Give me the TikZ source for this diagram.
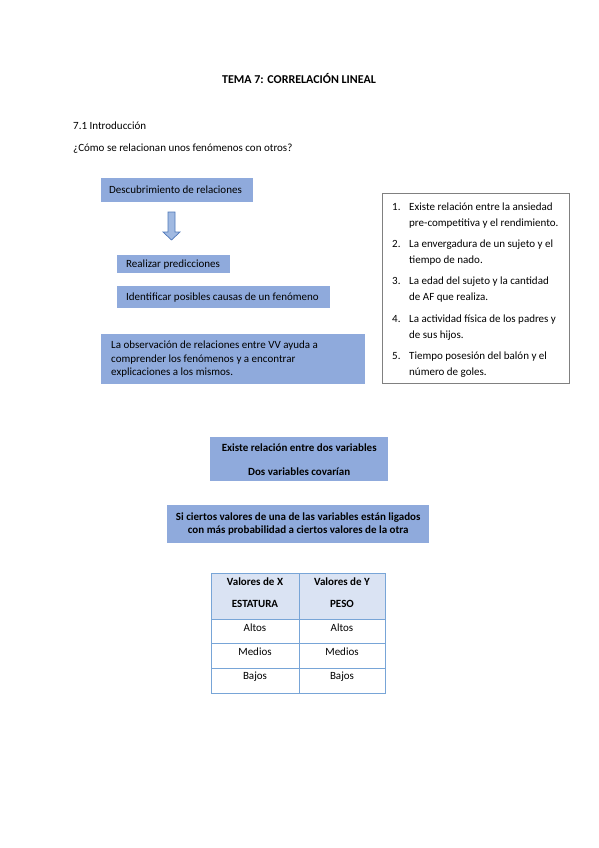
\documentclass[tikz,border=0pt]{standalone}
\usepackage{fontspec}
\setmainfont{Carlito}
\usepackage{xcolor}
\usetikzlibrary{calc, positioning}
\definecolor{boxblue}{RGB}{143,170,220}
\definecolor{headblue}{RGB}{218,227,243}
\definecolor{gridblue}{RGB}{120,165,215}
\definecolor{arrowline}{RGB}{79,120,185}
\definecolor{arrowfill}{RGB}{160,185,225}

\begin{document}
\begin{tikzpicture}[x=1pt, y=-1pt,
    txt/.style={anchor=mid west, inner sep=0pt, font=\fontsize{11}{13}\selectfont},
    bluebox/.style={fill=boxblue, anchor=north west, inner ysep=0pt, align=left,
        font=\fontsize{11}{13}\selectfont,
        execute at begin node={\spaceskip=0pt\xspaceskip=0pt}},
    cell/.style={inner sep=0pt, font=\fontsize{11}{13}\selectfont}]
\useasboundingbox[fill=white] (0,0) rectangle (599,848);

% encabezado
\node[txt, anchor=mid, font=\fontsize{12}{14}\selectfont\bfseries] (titulo) at (299,81)
    {TEMA 7: CORRELACIÓN LINEAL};
\node[txt] (intro) at (73,127) {7.1 Introducción};
\node[txt] (pregunta) at (73,149) {¿Cómo se relacionan unos fenómenos con otros?};

% bloques de la izquierda
\node[bluebox, minimum width=152, minimum height=24, inner xsep=8pt, text width=136]
    (descub) at (101,178) {Descubrimiento de relaciones};
\node[bluebox, minimum width=113, minimum height=18, inner xsep=9pt, text width=95]
    (realiz) at (117,255) {\raisebox{-5pt}{Realizar predicciones}};
\node[bluebox, minimum width=213, minimum height=22, inner xsep=9pt, text width=195]
    (identif) at (117,286) {Identificar posibles causas de un fenómeno};
\node[bluebox, minimum width=264, minimum height=50, inner xsep=10pt, text width=244,
    font=\fontsize{11}{13.5}\selectfont]
    (observ) at (101,334) {La observación de relaciones entre VV ayuda a\\
    comprender los fenómenos y a encontrar\\explicaciones a los mismos.};

% flecha de bloque
\draw[arrowline, fill=arrowfill, line width=0.7pt]
    (168,212) -- (175,212) -- (175,232) -- (180,232) -- (171.5,240)
    -- (163,232) -- (168,232) -- cycle;

% lista de ejemplos
\draw[gray, line width=0.8pt] (382,193) rectangle (569,383);
\foreach \n/\y/\a/\b in {
    1/208/{Existe relación entre la ansiedad}/{pre-competitiva y el rendimiento.},
    2/245/{La envergadura de un sujeto y el}/{tiempo de nado.},
    3/282/{La edad del sujeto y la cantidad}/{de AF que realiza.},
    4/320/{La actividad física de los padres y}/{de sus hijos.},
    5/357/{Tiempo posesión del balón y el}/{número de goles.}}{
    \node[txt] (num\n) at (392,\y) {\n.};
    \node[txt] (ej\n a) at (409,\y) {\a};
    \node[txt] (ej\n b) at (409,\y+16) {\b};
}

% bloques centrales
\node[bluebox, minimum width=178, minimum height=44, inner xsep=0pt, align=center,
    font=\fontsize{11}{24}\selectfont\bfseries]
    (existe) at (210,437) {Existe relación entre dos variables\\Dos variables covarían};
\node[bluebox, minimum width=262, minimum height=38, inner xsep=0pt, align=center,
    font=\fontsize{11}{13}\selectfont\bfseries]
    (ciertos) at (167,505) {\raisebox{-2pt}{Si ciertos valores de una de las variables están ligados}\\
    \raisebox{-2pt}{con más probabilidad a ciertos valores de la otra}};

% tabla
\fill[headblue] (211,573) rectangle (385,619);
\draw[gridblue, line width=0.8pt] (211,573) rectangle (385,693);
\foreach \y in {619,643,668}{
    \draw[gridblue, line width=0.8pt] (211,\y) -- (385,\y);
}
\draw[gridblue, line width=0.8pt] (299,573) -- (299,693);
\node[cell, font=\fontsize{11}{13}\selectfont\bfseries] (hx1) at (255,582) {Valores de X};
\node[cell, font=\fontsize{11}{13}\selectfont\bfseries] (hx2) at (255,604) {ESTATURA};
\node[cell, font=\fontsize{11}{13}\selectfont\bfseries] (hy1) at (342,582) {Valores de Y};
\node[cell, font=\fontsize{11}{13}\selectfont\bfseries] (hy2) at (342,604) {PESO};
\foreach \t/\y/\k in {Altos/628/1, Medios/652/2, Bajos/677/3}{
    \node[cell] (x\k) at (255,\y) {\t};
    \node[cell] (y\k) at (342,\y) {\t};
}
\end{tikzpicture}
\end{document}
